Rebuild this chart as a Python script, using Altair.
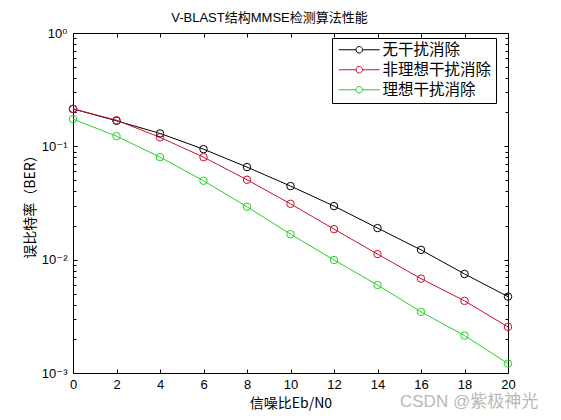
import altair as alt
import pandas as pd

# ---------------- data ----------------
snr = [0, 2, 4, 6, 8, 10, 12, 14, 16, 18, 20]
ber_none = [0.214, 0.168, 0.130, 0.0944, 0.0656, 0.0446, 0.0297, 0.0190, 0.0122, 0.00748, 0.00472]
ber_nonideal = [0.214, 0.170, 0.120, 0.0803, 0.0507, 0.0311, 0.0186, 0.0112, 0.00680, 0.00433, 0.00255]
ber_ideal = [0.174, 0.123, 0.0803, 0.0497, 0.0293, 0.0168, 0.00993, 0.00598, 0.00346, 0.00214, 0.00121]

series_names = ["无干扰消除", "非理想干扰消除", "理想干扰消除"]
series_colors = ["#000000", "#cc1030", "#26d026"]

x_ticks = [0, 2, 4, 6, 8, 10, 12, 14, 16, 18, 20]
y_major = [1, 0.1, 0.01, 0.001]
y_major_labels = ["10⁰", "10⁻¹", "10⁻²", "10⁻³"]
y_minor = [0.9, 0.8, 0.7, 0.6, 0.5, 0.4, 0.3, 0.2,
           0.09, 0.08, 0.07, 0.06, 0.05, 0.04, 0.03, 0.02,
           0.009, 0.008, 0.007, 0.006, 0.005, 0.004, 0.003, 0.002]

title_text = "V-BLAST结构MMSE检测算法性能"
x_title = "信噪比Eb/N0"
y_title = "误比特率（BER）"
watermark = ["CSDN @紫极神光"]

rows = []
for name, vals in zip(series_names, [ber_none, ber_nonideal, ber_ideal]):
    for s, b in zip(snr, vals):
        rows.append({"snr": s, "ber": b, "series": name})
df = pd.DataFrame(rows)

FONT = "Liberation Sans, Noto Sans CJK SC, DejaVu Sans"
CJK = "Noto Sans CJK SC, Liberation Sans"

xscale = alt.Scale(domain=[0, 20], nice=False, zero=False)
yscale = alt.Scale(type="log", domain=[0.001, 1], nice=False)
cscale = alt.Scale(domain=series_names, range=series_colors)

label_expr = " : ".join(
    f"datum.value == {v} ? '{l}'" for v, l in zip(y_major, y_major_labels)
) + " : ''"

common = dict(domain=False, grid=False, tickColor="black", tickWidth=1)

x_bottom = alt.Axis(values=x_ticks, orient="bottom", offset=-4, tickSize=4,
                    labelPadding=5, labelFlush=False, labelOverlap=False, format="d",
                    title=x_title, titleFont=CJK, titleFontSize=14,
                    titleFontWeight="normal", titlePadding=5, **common)
x_top = alt.Axis(values=x_ticks, orient="top", offset=-4, tickSize=4,
                 labels=False, title=None, **common)
y_left_major = alt.Axis(values=y_major, orient="left", offset=-4, tickSize=4,
                        labelExpr=label_expr, labelPadding=6, labelFlush=False,
                        labelOverlap=False, title=y_title, titleFont=CJK,
                        titleFontSize=14, titleFontWeight="normal", titlePadding=4,
                        **common)
y_left_minor = alt.Axis(values=y_minor, orient="left", offset=-3, tickSize=3,
                        labels=False, title=None, **common)
y_right_major = alt.Axis(values=y_major, orient="right", offset=-4, tickSize=4,
                         labels=False, title=None, **common)
y_right_minor = alt.Axis(values=y_minor, orient="right", offset=-3, tickSize=3,
                         labels=False, title=None, **common)

SYMBOL = ("M-5.125,0H-0.82M0.82,0H5.125"
          "M0.82,0A0.82,0.82,0,1,1,-0.82,0A0.82,0.82,0,1,1,0.82,0")

legend = alt.Legend(title=None, orient="none", legendX=259, legendY=5,
                    direction="vertical", symbolType=SYMBOL, symbolSize=64,
                    symbolStrokeWidth=1, symbolFillColor="white",
                    symbolOffset=15.5, labelOffset=15.5, labelFont=CJK,
                    labelFontSize=15.5, labelColor="black", rowPadding=3,
                    padding=4, strokeColor="black", fillColor="white",
                    cornerRadius=0, labelLimit=300)

base = alt.Chart(df)

lines = base.mark_line(strokeWidth=1).encode(
    x=alt.X("snr:Q", scale=xscale, axis=x_bottom),
    y=alt.Y("ber:Q", scale=yscale, axis=y_left_major),
    color=alt.Color("series:N", scale=cscale, sort=series_names, legend=legend),
)

points = base.mark_point(shape="circle", filled=False, size=56, strokeWidth=1,
                         opacity=1).encode(
    x=alt.X("snr:Q", scale=xscale, axis=x_top),
    y=alt.Y("ber:Q", scale=yscale, axis=y_left_minor),
    color=alt.Color("series:N", scale=cscale, sort=series_names, legend=None),
)

right_major = base.mark_point(opacity=0).encode(
    x=alt.X("snr:Q", scale=xscale, axis=None),
    y=alt.Y("ber:Q", scale=yscale, axis=y_right_major),
)
right_minor = base.mark_point(opacity=0).encode(
    x=alt.X("snr:Q", scale=xscale, axis=None),
    y=alt.Y("ber:Q", scale=yscale, axis=y_right_minor),
)

wm = alt.Chart(pd.DataFrame({"t": watermark})).mark_text(
    align="left", baseline="middle", fontSize=17, color="#b8b8b8", font=FONT
).encode(x=alt.value(327), y=alt.value(369), text="t:N")

chart = alt.layer(lines, points, right_major, right_minor, wm).resolve_axis(
    x="independent", y="independent"
).resolve_legend(color="independent").properties(
    width=435, height=340,
    autosize=alt.AutoSizeParams(type="none"),
    padding={"left": 65, "top": 25, "right": 45, "bottom": 39},
    background="white",
    title=alt.TitleParams(title_text, font=FONT, fontSize=13, fontWeight="normal",
                          color="black", anchor="middle", dx=-21, offset=2),
).configure_view(stroke="black", strokeWidth=1).configure_axis(
    labelFont=FONT, labelFontSize=13, labelColor="black", titleColor="black"
)

chart.save("out.html", embed_options={"renderer": "svg", "actions": False})
